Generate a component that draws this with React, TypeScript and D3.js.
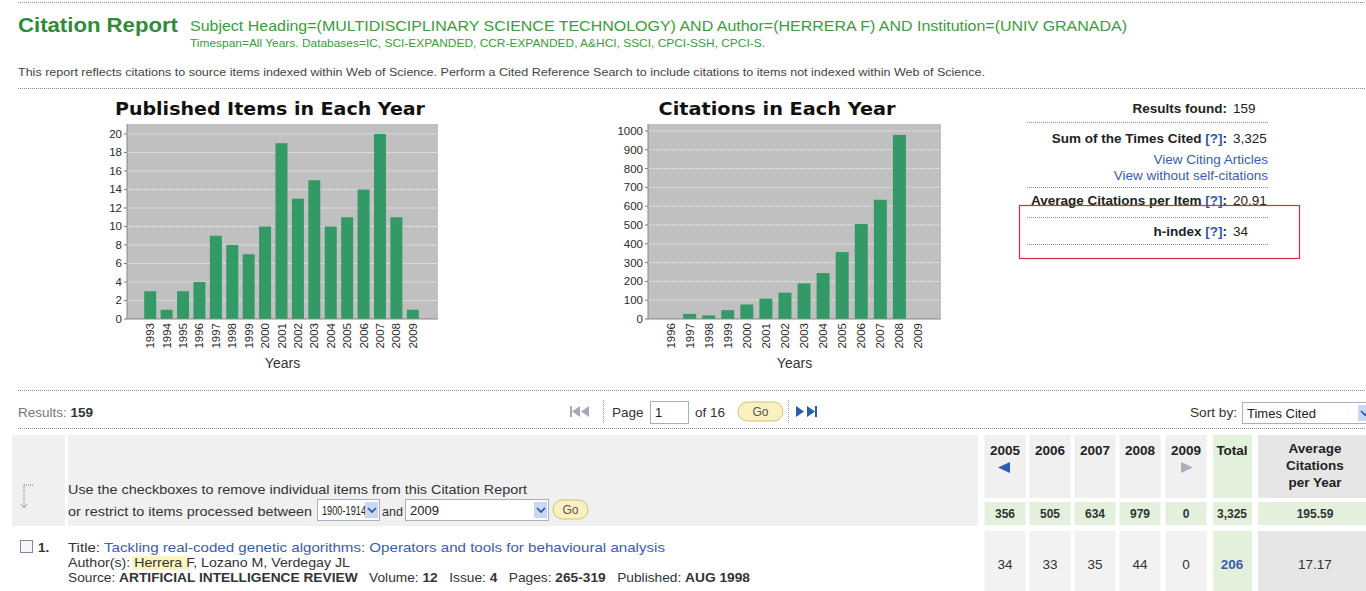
import React from 'react';
import * as d3 from 'd3';

// --- chart data ---
const pubYears = ['1993', '1994', '1995', '1996', '1997', '1998', '1999', '2000', '2001', '2002', '2003', '2004', '2005', '2006', '2007', '2008', '2009'];
const pubItems = [3, 1, 3, 4, 9, 8, 7, 10, 19, 13, 15, 10, 11, 14, 20, 11, 1];
const pubTicks = [0, 2, 4, 6, 8, 10, 12, 14, 16, 18, 20];

const citYears = ['1996', '1997', '1998', '1999', '2000', '2001', '2002', '2003', '2004', '2005', '2006', '2007', '2008', '2009'];
const citCounts = [0, 27, 19, 47, 77, 108, 140, 189, 244, 356, 505, 634, 979, 0];
const citTicks = [0, 100, 200, 300, 400, 500, 600, 700, 800, 900, 1000];

// --- table data ---
const tableYears = ['2005', '2006', '2007', '2008', '2009'];
const tableTotals = ['356', '505', '634', '979', '0'];
const itemCounts = ['34', '33', '35', '44', '0'];

const SANS = '"Liberation Sans", Arial, sans-serif';
const GREEN = '#339966';

type ChartProps = {
  title: string;
  titleX: number;
  titleLen: number;
  cats: string[];
  values: number[];
  ticks: number[];
  yMax: number;
  plot: [number, number];
  bandRange: [number, number];
  inner: number;
};

const BarChart: React.FC<ChartProps> = ({ title, titleX, titleLen, cats, values, ticks, yMax, plot, bandRange, inner }) => {
  const top = 124;
  const bottom = 319;
  const x = d3.scaleBand<string>().domain(cats).range(bandRange).paddingInner(inner).paddingOuter(inner / 2);
  const y = d3.scaleLinear().domain([0, yMax]).range([bottom, top]);
  const axisX = (plot[0] + plot[1]) / 2;
  return (
    <g>
      <text x={titleX} y={115} textAnchor="middle" fontFamily='"DejaVu Sans", sans-serif' fontWeight="bold"
        fontSize={17} fill="#111" textLength={titleLen} lengthAdjust="spacingAndGlyphs">{title}</text>
      <rect x={plot[0]} y={top} width={plot[1] - plot[0]} height={bottom - top} fill="#c0c0c0" />
      {ticks.map(t => (
        <g key={t}>
          {t > 0 && <line x1={plot[0]} x2={plot[1]} y1={y(t)} y2={y(t)} stroke="#e0e0e0" strokeWidth={1} strokeDasharray="3,1" />}
          <line x1={plot[0] - 3} x2={plot[0]} y1={y(t)} y2={y(t)} stroke="#777" />
          <text x={plot[0] - 5} y={y(t) + 4} textAnchor="end" fontFamily={SANS} fontSize={11.5} fill="#2a2a2a">{t}</text>
        </g>
      ))}
      {cats.map((c, i) => (
        <rect key={c} x={x(c)} y={y(values[i])} width={x.bandwidth()} height={bottom - y(values[i])} fill={GREEN} />
      ))}
      <line x1={plot[0]} x2={plot[0]} y1={top} y2={bottom} stroke="#888" />
      <line x1={plot[0]} x2={plot[1]} y1={bottom} y2={bottom} stroke="#888" />
      {cats.map(c => {
        const cx = (x(c) as number) + x.bandwidth() / 2;
        return (
          <text key={c} transform={`translate(${cx + 4},323) rotate(-90)`} textAnchor="end"
            fontFamily={SANS} fontSize={11.5} fill="#2a2a2a">{c}</text>
        );
      })}
      <text x={axisX} y={368} textAnchor="middle" fontFamily={SANS} fontSize={14} fill="#333">Years</text>
    </g>
  );
};

const Dotted: React.FC<{ x1: number; x2: number; y: number }> = ({ x1, x2, y }) => (
  <line x1={x1} x2={x2} y1={y + 0.5} y2={y + 0.5} stroke="#888" strokeDasharray="1,1" />
);

const GoButton: React.FC<{ x: number; y: number; w: number }> = ({ x, y, w }) => (
  <g>
    <rect x={x} y={y} width={w} height={19} rx={9.5} fill="#fbf0c0" stroke="#d8c070" />
    <text x={x + w / 2} y={y + 14} textAnchor="middle" fontFamily={SANS} fontSize={12} fill="#555">Go</text>
  </g>
);

const Select: React.FC<{ x: number; y: number; w: number; label: string; labelLen?: number }> = ({ x, y, w, label, labelLen }) => (
  <g>
    <rect x={x + 0.5} y={y + 0.5} width={w} height={21} fill="#fff" stroke="#a8b0c0" />
    <text x={x + 5} y={y + 16} fontFamily={SANS} fontSize={13} fill="#222"
      textLength={labelLen} lengthAdjust={labelLen ? 'spacingAndGlyphs' : undefined}>{label}</text>
    <rect x={x + w - 14} y={y + 3} width={13} height={16} fill="#c8d8f0" />
    <path d={`M${x + w - 11},${y + 9} l4,4 l4,-4`} fill="none" stroke="#2850a8" strokeWidth={1.6} />
  </g>
);

const App: React.FC = () => {
  const colCenters = [1005, 1050, 1095, 1140, 1186];
  const colW = 41;
  return (
    <svg width={1366} height={591} style={{ position: 'absolute', left: 0, top: 0, background: '#fff' }}
      fontFamily={SANS}>
      <rect width={1366} height={591} fill="#fff" />
      <Dotted x1={18} x2={1366} y={2} />

      {/* header */}
      <text x={18} y={32} fontSize={20} fontWeight="bold" fill="#2e8b3a" textLength={160} lengthAdjust="spacingAndGlyphs">Citation Report</text>
      <text x={190} y={31} fontSize={15} fill="#3a9c3a" textLength={937} lengthAdjust="spacingAndGlyphs">
        Subject Heading=(MULTIDISCIPLINARY SCIENCE TECHNOLOGY) AND Author=(HERRERA F) AND Institution=(UNIV GRANADA)
      </text>
      <text x={190} y={47} fontSize={11} fill="#3a9c3a" textLength={575} lengthAdjust="spacingAndGlyphs">
        Timespan=All Years. Databases=IC, SCI-EXPANDED, CCR-EXPANDED, A&amp;HCI, SSCI, CPCI-SSH, CPCI-S.
      </text>
      <text x={18} y={76} fontSize={11} fill="#444" textLength={967} lengthAdjust="spacingAndGlyphs">
        This report reflects citations to source items indexed within Web of Science. Perform a Cited Reference Search to include citations to items not indexed within Web of Science.
      </text>
      <Dotted x1={18} x2={1366} y={88} />

      <BarChart title="Published Items in Each Year" titleX={270} titleLen={310} cats={pubYears} values={pubItems}
        ticks={pubTicks} yMax={21.08} plot={[127, 438]} bandRange={[142, 421]} inner={0.27} />
      <BarChart title="Citations in Each Year" titleX={777} titleLen={237} cats={citYears} values={citCounts}
        ticks={citTicks} yMax={1037} plot={[648, 941]} bandRange={[661, 928]} inner={0.32} />

      {/* summary panel */}
      <g fontSize={13.5}>
        <text x={1227} y={113} textAnchor="end" fontWeight="bold" fill="#222">Results found:</text>
        <text x={1233} y={113} fill="#222">159</text>
        <Dotted x1={1027} x2={1268} y={122} />
        <text x={1227} y={143} textAnchor="end" fontWeight="bold" fill="#222">
          Sum of the Times Cited <tspan fill="#3355aa">[?]</tspan>:
        </text>
        <text x={1233} y={143} fill="#222">3,325</text>
        <text x={1268} y={164} textAnchor="end" fill="#3a5cb0">View Citing Articles</text>
        <text x={1268} y={180} textAnchor="end" fill="#3a5cb0">View without self-citations</text>
        <Dotted x1={1027} x2={1268} y={187} />
        <text x={1227} y={205} textAnchor="end" fontWeight="bold" fill="#222">
          Average Citations per Item <tspan fill="#3355aa">[?]</tspan>:
        </text>
        <text x={1233} y={205} fill="#222">20.91</text>
        <Dotted x1={1027} x2={1268} y={217} />
        <text x={1227} y={236} textAnchor="end" fontWeight="bold" fill="#222">
          h-index <tspan fill="#3355aa">[?]</tspan>:
        </text>
        <text x={1233} y={236} fill="#222">34</text>
        <Dotted x1={1027} x2={1268} y={244} />
        <rect x={1019.5} y={205.5} width={280} height={53} fill="none" stroke="#d03040" strokeWidth={1.2} />
      </g>

      {/* results bar */}
      <Dotted x1={18} x2={1366} y={390} />
      <text x={18} y={417} fontSize={13.5} fill="#777">Results: <tspan fontWeight="bold" fill="#333">159</tspan></text>
      <g>
        <rect x={570} y={406} width={2} height={11} fill="#a8a8b8" />
        <path d="M572,411.5 l8,-5.5 v11 z M581,411.5 l8,-5.5 v11 z" fill="#a8a8b8" />
        <line x1={603.5} x2={603.5} y1={400} y2={424} stroke="#999" strokeDasharray="1,1" />
        <text x={612} y={417} fontSize={13.5} fill="#333">Page</text>
        <rect x={650.5} y={401.5} width={38} height={22} fill="#fff" stroke="#a8b0c0" />
        <text x={655} y={417} fontSize={13} fill="#222">1</text>
        <text x={695} y={417} fontSize={13.5} fill="#333">of 16</text>
        <GoButton x={738} y={402} w={45} />
        <line x1={788.5} x2={788.5} y1={400} y2={424} stroke="#999" strokeDasharray="1,1" />
        <path d="M796,406 l8,5.5 l-8,5.5 z M807,406 l8,5.5 l-8,5.5 z" fill="#2a5cb0" />
        <rect x={815} y={406} width={2} height={11} fill="#2a5cb0" />
      </g>
      <text x={1190} y={417} fontSize={13.5} fill="#333" textLength={47} lengthAdjust="spacingAndGlyphs">Sort by:</text>
      <Select x={1242} y={402} w={130} label="Times Cited" />
      <Dotted x1={18} x2={1366} y={428} />

      {/* table header block */}
      <rect x={12} y={435} width={53} height={91} fill="#f0f0f0" />
      <rect x={68} y={435} width={910} height={91} fill="#f0f0f0" />
      <path d="M24,485 h10 M24,485 v22" stroke="#777" strokeDasharray="1,1" fill="none" />
      <path d="M21,504 l3,4 l3,-4" stroke="#999" fill="none" />
      <text x={68} y={494} fontSize={13.5} fill="#333" textLength={459} lengthAdjust="spacingAndGlyphs">Use the checkboxes to remove individual items from this Citation Report</text>
      <text x={68} y={516} fontSize={13.5} fill="#333" textLength={244} lengthAdjust="spacingAndGlyphs">or restrict to items processed between</text>
      <Select x={317} y={499} w={62} label="1900-1914" labelLen={44} />
      <text x={382} y={516} fontSize={13.5} fill="#333" textLength={21} lengthAdjust="spacingAndGlyphs">and</text>
      <Select x={405} y={499} w={143} label="2009" />
      <GoButton x={553} y={500} w={35} />

      {tableYears.map((yr, i) => (
        <g key={yr}>
          <rect x={colCenters[i] - colW / 2} y={435} width={colW} height={63} fill="#f0f0f0" />
          <text x={colCenters[i]} y={455} textAnchor="middle" fontSize={13.5} fontWeight="bold" fill="#222">{yr}</text>
          <rect x={colCenters[i] - colW / 2} y={502} width={colW} height={23} fill="#e2f0dc" />
          <text x={colCenters[i]} y={518} textAnchor="middle" fontSize={12} fontWeight="bold" fill="#333">{tableTotals[i]}</text>
          <rect x={colCenters[i] - colW / 2} y={531} width={colW} height={60} fill="#f2f2f2" />
          <text x={colCenters[i]} y={569} textAnchor="middle" fontSize={13.5} fill="#333">{itemCounts[i]}</text>
        </g>
      ))}
      <path d="M1010,462 l-12,5.5 l12,5.5 z" fill="#2a5cb0" />
      <path d="M1181,462 l12,5.5 l-12,5.5 z" fill="#a8b0bc" />

      <rect x={1213} y={435} width={39} height={63} fill="#e2f0dc" />
      <text x={1232} y={455} textAnchor="middle" fontSize={13.5} fontWeight="bold" fill="#222">Total</text>
      <rect x={1213} y={502} width={39} height={23} fill="#e2f0dc" />
      <text x={1232} y={518} textAnchor="middle" fontSize={12} fontWeight="bold" fill="#333">3,325</text>
      <rect x={1213} y={531} width={39} height={60} fill="#e2f0dc" />
      <text x={1232} y={569} textAnchor="middle" fontSize={13.5} fontWeight="bold" fill="#3a5cb0">206</text>

      <rect x={1258} y={435} width={108} height={63} fill="#e6e6e6" />
      <g fontSize={13.5} fontWeight="bold" fill="#222" textAnchor="middle">
        <text x={1315} y={453}>Average</text>
        <text x={1315} y={470}>Citations</text>
        <text x={1315} y={487}>per Year</text>
      </g>
      <rect x={1258} y={502} width={108} height={23} fill="#e2f0dc" />
      <text x={1315} y={518} textAnchor="middle" fontSize={12} fontWeight="bold" fill="#333">195.59</text>
      <rect x={1258} y={531} width={108} height={60} fill="#e6e6e6" />
      <text x={1315} y={569} textAnchor="middle" fontSize={13.5} fill="#333">17.17</text>

      {/* first record */}
      <rect x={20.5} y={540.5} width={12} height={12} fill="#f6f6f6" stroke="#7a8aa0" />
      <text x={38} y={552} fontSize={13.5} fontWeight="bold" fill="#333">1.</text>
      <text x={68} y={552} fontSize={13.5} fill="#333" textLength={32} lengthAdjust="spacingAndGlyphs">Title:</text>
      <text x={104} y={552} fontSize={13.5} fill="#3a5cb0" textLength={561} lengthAdjust="spacingAndGlyphs">
        Tackling real-coded genetic algorithms: Operators and tools for behavioural analysis
      </text>
      <rect x={132} y={556} width={57} height={14} fill="#fbf5c0" />
      <text x={68} y={567} fontSize={13.5} fill="#333" textLength={282} lengthAdjust="spacingAndGlyphs">Author(s): Herrera F, Lozano M, Verdegay JL</text>
      <text x={68} y={582} fontSize={13.5} fill="#333" textLength={682} lengthAdjust="spacingAndGlyphs" style={{ whiteSpace: 'pre' }}>
        Source: <tspan fontWeight="bold">ARTIFICIAL INTELLIGENCE REVIEW</tspan>{'   '}Volume: <tspan fontWeight="bold">12</tspan>{'   '}Issue: <tspan fontWeight="bold">4</tspan>{'   '}Pages: <tspan fontWeight="bold">265-319</tspan>{'   '}Published: <tspan fontWeight="bold">AUG 1998</tspan>
      </text>
    </svg>
  );
};

export default App;
